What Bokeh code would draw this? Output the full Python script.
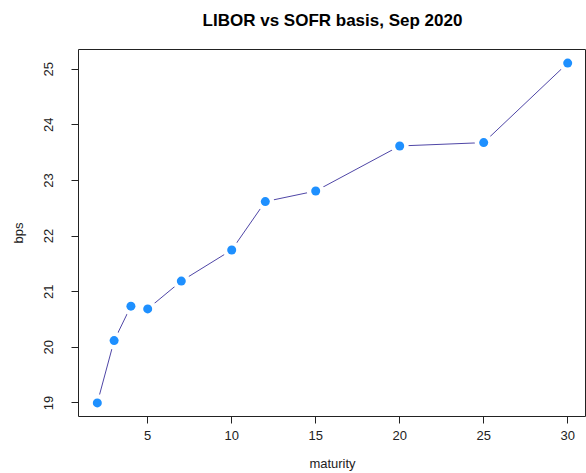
from bokeh.plotting import figure
from bokeh.models import Range1d, FixedTicker, Title
from bokeh.embed import file_html
from bokeh.resources import INLINE

maturity = [2, 3, 4, 5, 7, 10, 12, 15, 20, 25, 30]
basis_bps = [19.00, 20.12, 20.74, 20.69, 21.19, 21.75, 22.62, 22.81, 23.62, 23.68, 25.11]
x_ticks = [5, 10, 15, 20, 25, 30]
y_ticks = [19, 20, 21, 22, 23, 24, 25]
title_text = "LIBOR vs SOFR basis, Sep 2020"

FONT = "Liberation Sans"

def padded(vals, frac=0.04):
    lo, hi = min(vals), max(vals)
    d = (hi - lo) * frac
    return Range1d(lo - d, hi + d)

p = figure(width=586, height=473, output_backend="svg", toolbar_location=None,
           x_range=padded(maturity), y_range=padded(basis_bps),
           title=title_text,
           min_border_left=78, min_border_right=0, min_border_top=49, min_border_bottom=57)

p.title.align = "center"
p.title.text_font = FONT
p.title.text_font_size = "17px"
p.title.text_font_style = "bold"
p.title.text_color = "black"
p.title.standoff = 0

# empty spacer between the title and the plot box
p.add_layout(Title(text=" ", text_font_size="12px", standoff=4), "above")

p.xgrid.visible = False
p.ygrid.visible = False
p.outline_line_color = "#222222"
p.outline_line_width = 1
p.background_fill_color = "white"
p.border_fill_color = "white"

for ax in (p.xaxis[0], p.yaxis[0]):
    ax.axis_line_color = None
    ax.major_tick_line_color = "#222222"
    ax.major_tick_out = 7
    ax.major_tick_in = 0
    ax.minor_tick_line_color = None
    ax.major_label_text_font = FONT
    ax.major_label_text_font_size = "13px"
    ax.major_label_text_color = "#222222"
    ax.axis_label_text_font = FONT
    ax.axis_label_text_font_size = "13px"
    ax.axis_label_text_font_style = "normal"
    ax.axis_label_text_color = "#222222"

p.xaxis.ticker = FixedTicker(ticks=x_ticks)
p.yaxis.ticker = FixedTicker(ticks=y_ticks)
p.xaxis.major_label_standoff = 7
p.yaxis.major_label_standoff = 18
p.yaxis.major_label_orientation = "vertical"
p.xaxis.axis_label = "maturity"
p.yaxis.axis_label = "bps"
p.xaxis.axis_label_standoff = 13
p.yaxis.axis_label_standoff = 16

p.line(maturity, basis_bps, line_color="#4F46A6", line_width=1)
p.scatter(maturity, basis_bps, size=18, fill_color="white", line_color=None)
p.scatter(maturity, basis_bps, size=9, fill_color="#1E90FF", line_color=None)

open("out.html", "w").write(file_html(p, INLINE))
